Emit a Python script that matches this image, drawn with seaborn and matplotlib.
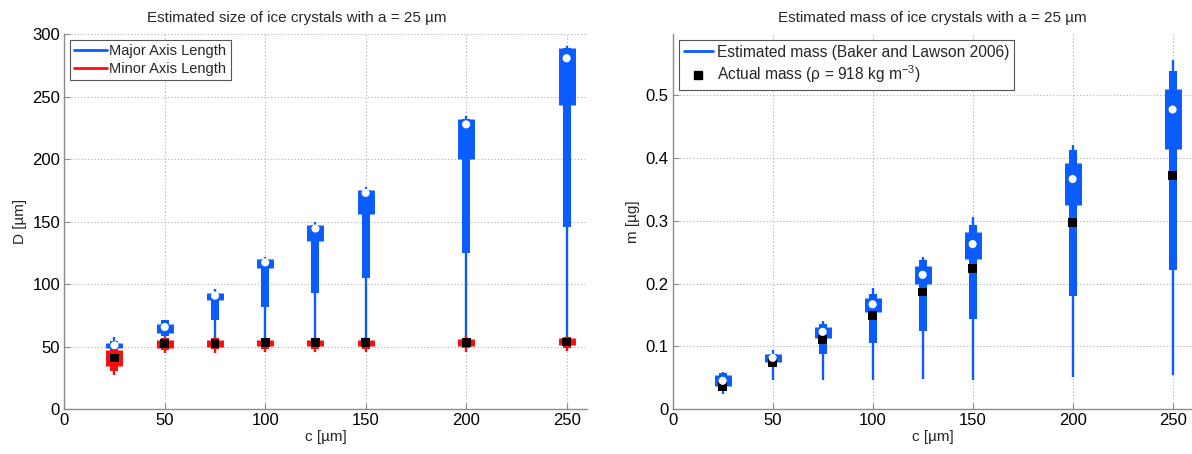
import numpy as np
import pandas as pd
import matplotlib
matplotlib.use("Agg")
import matplotlib.pyplot as plt
from matplotlib.lines import Line2D
import seaborn as sns

sns.set_theme(style="white")
plt.rcParams['font.family'] = ['Liberation Sans', 'DejaVu Sans']
plt.rcParams['mathtext.fontset'] = 'custom'
plt.rcParams['mathtext.rm'] = 'Liberation Sans'
plt.rcParams['mathtext.it'] = 'Liberation Sans'

# ---------------- data ----------------
c_vals = [25, 50, 75, 100, 125, 150, 200, 250]

# Major axis length (blue), left panel [µm]
maj_lo  = [47.0, 57.5, 52.0, 52.0, 52.0, 52.0, 52.0, 52.0]
maj_p10 = [47.0, 58.1, 71.3, 81.9, 92.5, 104.5, 125.0, 145.7]
maj_p25 = [48.8, 60.8, 87.2, 112.5, 134.6, 156.4, 200.3, 243.6]
maj_p75 = [52.8, 68.2, 93.1, 119.7, 147.0, 175.0, 232.2, 288.8]
maj_p90 = [54.5, 70.9, 93.1, 119.7, 147.0, 175.0, 232.2, 288.8]
maj_hi  = [57.6, 71.3, 95.7, 121.8, 149.7, 177.7, 234.8, 290.7]
maj_med = [50.9, 65.6, 90.7, 117.3, 144.4, 172.9, 227.7, 280.6]

# Minor axis length (red), left panel [µm]
min_lo  = [27.4, 45.0, 45.0, 45.5, 45.5, 45.5, 46.0, 46.5]
min_p10 = [30.1, 47.5, 47.8, 48.0, 48.0, 48.2, 48.5, 48.8]
min_p25 = [34.1, 49.0, 50.0, 50.2, 50.3, 50.5, 50.8, 51.0]
min_p75 = [46.9, 55.4, 55.0, 55.0, 55.2, 55.5, 55.8, 56.5]
min_p90 = [46.9, 57.0, 56.5, 56.5, 56.8, 57.0, 57.2, 57.5]
min_hi  = [48.0, 57.5, 57.6, 57.8, 58.0, 58.0, 58.2, 58.5]
min_act = [40.8, 52.2, 52.6, 52.9, 53.0, 53.1, 53.3, 53.6]

# Estimated mass (blue), right panel [µg]
ms_lo  = [0.024, 0.046, 0.046, 0.047, 0.048, 0.046, 0.051, 0.054]
ms_p10 = [0.031, 0.067, 0.087, 0.1055, 0.124, 0.144, 0.180, 0.2217]
ms_p25 = [0.036, 0.075, 0.1135, 0.1546, 0.199, 0.240, 0.3257, 0.4147]
ms_p75 = [0.0547, 0.087, 0.130, 0.1775, 0.228, 0.2815, 0.393, 0.5107]
ms_p90 = [0.057, 0.087, 0.135, 0.184, 0.238, 0.293, 0.4136, 0.539]
ms_hi  = [0.059, 0.094, 0.141, 0.1935, 0.2425, 0.3065, 0.4216, 0.556]
ms_med = [0.045, 0.0816, 0.123, 0.167, 0.214, 0.263, 0.3667, 0.4776]
# Actual mass (black squares)
ms_act = [0.036, 0.0736, 0.111, 0.149, 0.1866, 0.224, 0.2974, 0.372]

xticks = [0, 50, 100, 150, 200, 250]
yticks_left = [0, 50, 100, 150, 200, 250, 300]
yticks_right = [0, 0.1, 0.2, 0.3, 0.4, 0.5]

BLUE = "#0a5cff"
RED = "#ff0d0d"

fig = plt.figure(figsize=(11.92, 4.54), dpi=100)
axL = fig.add_axes([0.0539, 0.0991, 0.4383, 0.826])
axR = fig.add_axes([0.5643, 0.0991, 0.4362, 0.826])


def glyph(ax, x, lo, p10, p25, p75, p90, hi, color, z):
    ax.vlines(x, lo, hi, colors=color, linewidth=1.7, zorder=z)
    ax.vlines(x, p10, p90, colors=color, linewidth=5.8, zorder=z + 0.1)
    ax.vlines(x, p25, p75, colors=color, linewidth=12.2, zorder=z + 0.2)


def style(ax, ylim, yticks, ylabel, title, tx):
    ax.set_xlim(0, 260)
    ax.set_ylim(*ylim)
    ax.set_xticks(xticks)
    ax.set_yticks(yticks)
    ax.set_yticklabels([f"{t:g}" for t in yticks])
    ax.grid(True, linestyle=(0, (1, 2)), color="#b0b0b0", linewidth=0.8)
    ax.set_axisbelow(True)
    for s in ["top", "right"]:
        ax.spines[s].set_visible(False)
    for s in ["left", "bottom"]:
        ax.spines[s].set_color("#8c8c8c")
        ax.spines[s].set_linewidth(1.0)
    ax.tick_params(direction="in", length=4, width=0.8, color="#8c8c8c",
                   labelsize=12, labelcolor="black", pad=3,
                   left=True, bottom=True)
    ax.set_xlabel("c [µm]", fontsize=11, labelpad=1)
    ax.set_ylabel(ylabel, fontsize=11, labelpad=4)
    ax.set_title(title, fontsize=11, pad=9, x=tx)


# ---- left panel ----
glyph(axL, c_vals, maj_lo, maj_p10, maj_p25, maj_p75, maj_p90, maj_hi, BLUE, 2)
glyph(axL, c_vals, min_lo, min_p10, min_p25, min_p75, min_p90, min_hi, RED, 4)
dfL = pd.DataFrame({"c": c_vals, "major": maj_med, "minor": min_act})
sns.scatterplot(data=dfL, x="c", y="major", ax=axL, marker="o", s=34,
                color="white", edgecolor="none", zorder=3, legend=False)
sns.scatterplot(data=dfL, x="c", y="minor", ax=axL, marker="s", s=40,
                color="black", edgecolor="none", zorder=5, legend=False)
style(axL, (0, 300), yticks_left, "D [µm]",
      "Estimated size of ice crystals with a = 25 µm", 0.445)
hL = [Line2D([], [], color=BLUE, lw=2), Line2D([], [], color=RED, lw=2)]
legL = axL.legend(hL, ["Major Axis Length", "Minor Axis Length"],
                  loc="upper left", fontsize=10.5, frameon=True, fancybox=False,
                  edgecolor="#555555", framealpha=1, borderaxespad=0.4,
                  handlelength=2.2, handletextpad=0.2, borderpad=0.3,
                  labelspacing=0.25)
legL.get_frame().set_linewidth(0.8)

# ---- right panel ----
glyph(axR, c_vals, ms_lo, ms_p10, ms_p25, ms_p75, ms_p90, ms_hi, BLUE, 2)
dfR = pd.DataFrame({"c": c_vals, "est": ms_med, "act": ms_act})
sns.scatterplot(data=dfR, x="c", y="act", ax=axR, marker="s", s=40,
                color="black", edgecolor="none", zorder=3, legend=False)
sns.scatterplot(data=dfR, x="c", y="est", ax=axR, marker="o", s=34,
                color="white", edgecolor="none", zorder=4, legend=False)
style(axR, (0, 0.598), yticks_right, "m [µg]",
      "Estimated mass of ice crystals with a = 25 µm", 0.5)
hR = [Line2D([], [], color=BLUE, lw=2),
      Line2D([], [], color="black", lw=0, marker="s", markersize=6)]
legR = axR.legend(hR, ["Estimated mass (Baker and Lawson 2006)",
                       "Actual mass (ρ = 918 kg m$^{-3}$)"],
                  loc="upper left", fontsize=11.2, frameon=True, fancybox=False,
                  edgecolor="#555555", framealpha=1, borderaxespad=0.4,
                  handlelength=1.9, handletextpad=0.25, borderpad=0.3,
                  labelspacing=0.25)
legR.get_frame().set_linewidth(0.8)

fig.savefig("out.png", dpi=100)
